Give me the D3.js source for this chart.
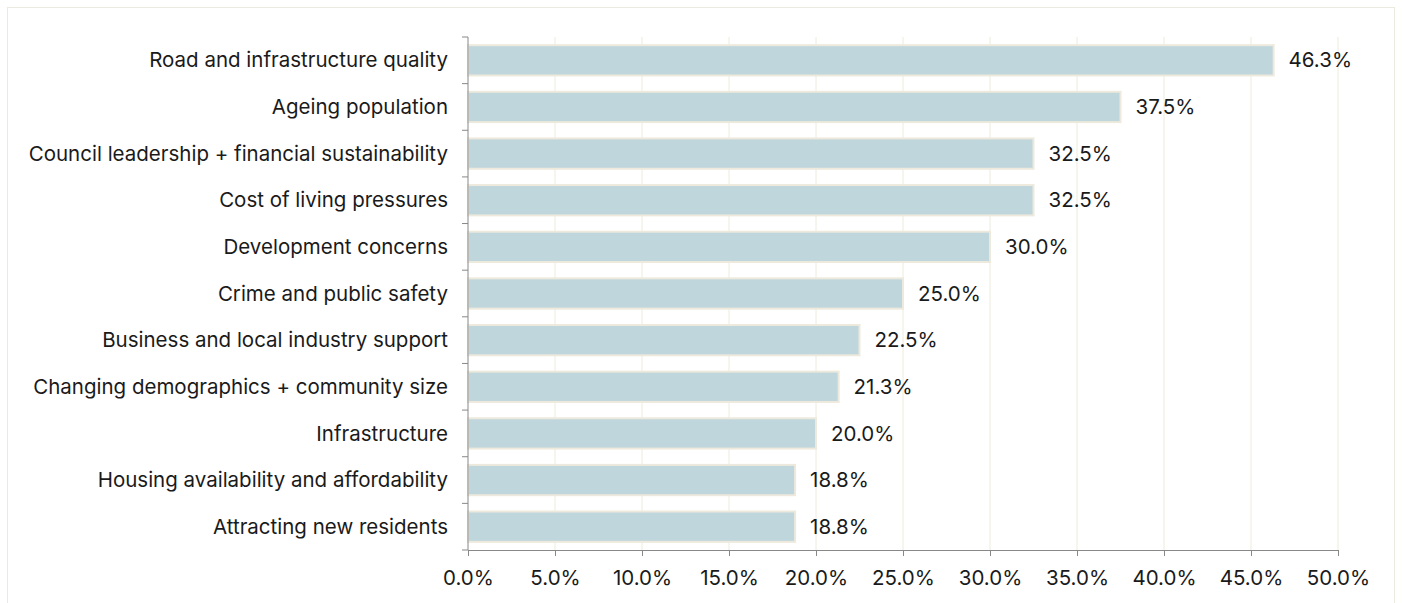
<!DOCTYPE html>
<html>
<head>
<meta charset="utf-8">
<script src="https://cdn.jsdelivr.net/npm/d3@7"></script>
<style>
  html, body { margin: 0; padding: 0; background: #fff; }
  svg { display: block; font-family: "Inter", "Roboto", sans-serif; }
</style>
</head>
<body>
<svg id="chart" width="1402" height="603"></svg>
<script>
const categories = [
  "Road and infrastructure quality",
  "Ageing population",
  "Council leadership + financial sustainability",
  "Cost of living pressures",
  "Development concerns",
  "Crime and public safety",
  "Business and local industry support",
  "Changing demographics + community size",
  "Infrastructure",
  "Housing availability and affordability",
  "Attracting new residents"
];
const values = [46.3, 37.5, 32.5, 32.5, 30.0, 25.0, 22.5, 21.3, 20.0, 18.8, 18.8];
const xTicks = [0, 5, 10, 15, 20, 25, 30, 35, 40, 45, 50];

const svg = d3.select("#chart");
const W = 1402, H = 603;
const margin = { left: 468, right: 64, top: 37, bottom: 53 };
const FS = 20.5;

svg.append("rect")
  .attr("x", 7.5).attr("y", 7.5)
  .attr("width", W - 15).attr("height", H)
  .attr("fill", "#fff").attr("stroke", "#ebe9e0").attr("stroke-width", 1);

const x = d3.scaleLinear().domain([0, 50]).range([margin.left, W - margin.right]);
const y = d3.scaleBand().domain(categories).range([margin.top, H - margin.bottom]).paddingInner(0.35).paddingOuter(0.175);

// gridlines
svg.append("g").selectAll("line").data(xTicks.slice(1)).join("line")
  .attr("x1", d => x(d)).attr("x2", d => x(d))
  .attr("y1", margin.top).attr("y2", H - margin.bottom)
  .attr("stroke", "#ecebdc").attr("stroke-width", 1);

// bars
svg.append("g").selectAll("rect").data(values).join("rect")
  .attr("x", x(0))
  .attr("y", (d, i) => y(categories[i]))
  .attr("width", d => x(d) - x(0))
  .attr("height", y.bandwidth())
  .attr("fill", "#bfd6dc")
  .attr("stroke", "#ede9dd").attr("stroke-width", 2);

// value labels
svg.append("g").selectAll("text").data(values).join("text")
  .attr("x", d => x(d) + 15)
  .attr("y", (d, i) => y(categories[i]) + y.bandwidth() / 2)
  .attr("dy", "0.35em")
  .attr("font-size", FS).attr("fill", "#1a1a1a")
  .text(d => d.toFixed(1) + "%");

// x axis
const xAxis = svg.append("g").attr("transform", `translate(0,${H - margin.bottom})`)
  .call(d3.axisBottom(x).tickValues(xTicks).tickFormat(d => d.toFixed(1) + "%").tickSize(6).tickPadding(14));
xAxis.selectAll("text").attr("font-size", FS).attr("fill", "#1a1a1a").attr("font-family", "Inter, Roboto, sans-serif");
xAxis.selectAll("line, path").attr("stroke", "#888");

// y axis with ticks at band boundaries
const yAxis = svg.append("g").attr("transform", `translate(${margin.left},0)`);
yAxis.append("line").attr("x1", 0).attr("x2", 0)
  .attr("y1", margin.top).attr("y2", H - margin.bottom).attr("stroke", "#888");
const bounds = d3.range(categories.length + 1).map(i => margin.top + i * (H - margin.top - margin.bottom) / categories.length);
yAxis.selectAll("line.tk").data(bounds).join("line").attr("class", "tk")
  .attr("x1", -6).attr("x2", 0).attr("y1", d => d).attr("y2", d => d).attr("stroke", "#888");
yAxis.selectAll("text").data(categories).join("text")
  .attr("x", -20)
  .attr("y", d => y(d) + y.bandwidth() / 2)
  .attr("dy", "0.35em")
  .attr("text-anchor", "end")
  .attr("font-size", FS).attr("fill", "#1a1a1a")
  .text(d => d);
</script>
</body>
</html>
